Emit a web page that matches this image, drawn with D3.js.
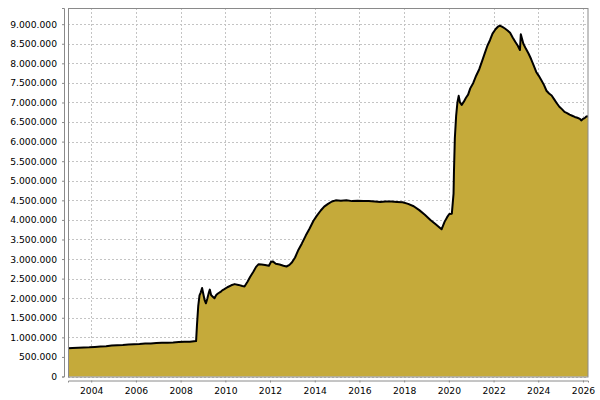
<!DOCTYPE html>
<html>
<head>
<meta charset="utf-8">
<script src="https://cdn.jsdelivr.net/npm/d3@7"></script>
<style>
  body { margin: 0; background: #fff; }
  .tick text { font-family: "DejaVu Sans", sans-serif; font-size: 9.2px; fill: #000; }
</style>
</head>
<body>
<div id="plotarea"></div>
<script>
var dates = [
  "2002-12-18","2003-03-01","2003-06-01","2003-09-01","2003-12-01",
  "2004-03-01","2004-06-01","2004-09-01","2004-12-01",
  "2005-03-01","2005-06-01","2005-09-01","2005-12-01",
  "2006-03-01","2006-06-01","2006-09-01","2006-12-01",
  "2007-03-01","2007-06-01","2007-09-01","2007-12-01",
  "2008-03-01","2008-06-01","2008-09-10","2008-09-24","2008-10-15","2008-11-05","2008-11-26","2008-12-17",
  "2009-01-07","2009-01-28","2009-02-18","2009-03-11","2009-04-08","2009-04-22","2009-05-13","2009-06-10",
  "2009-07-08","2009-08-05","2009-09-02","2009-10-14","2009-11-11","2009-12-16",
  "2010-02-03","2010-04-07","2010-06-02","2010-08-04","2010-10-06","2010-11-10","2010-12-29",
  "2011-02-09","2011-04-06","2011-05-18","2011-06-29","2011-08-17","2011-10-12","2011-12-14",
  "2012-01-18","2012-02-15","2012-04-04","2012-06-06","2012-08-08","2012-09-26","2012-11-14","2012-12-26",
  "2013-02-13","2013-04-10","2013-06-05","2013-08-07","2013-10-09","2013-12-11",
  "2014-02-05","2014-04-09","2014-06-04","2014-08-06","2014-10-08","2014-12-10",
  "2015-03-04","2015-06-03","2015-09-02","2015-12-02",
  "2016-03-02","2016-06-01","2016-09-07","2016-12-07",
  "2017-03-01","2017-06-07","2017-09-06","2017-12-06",
  "2018-03-07","2018-06-06","2018-09-05","2018-12-05",
  "2019-03-06","2019-06-05","2019-09-04","2019-10-23","2019-12-04",
  "2020-01-08","2020-02-19","2020-03-18","2020-03-25","2020-04-08","2020-04-29","2020-05-20","2020-06-10",
  "2020-07-01","2020-07-29","2020-09-02","2020-10-07","2020-11-11","2020-12-16",
  "2021-02-03","2021-03-24","2021-05-12","2021-06-30","2021-08-11","2021-09-22","2021-11-03","2021-12-15",
  "2022-02-02","2022-03-16","2022-04-13","2022-05-25","2022-07-06","2022-08-17","2022-09-28","2022-11-09","2022-12-21",
  "2023-02-01","2023-03-08","2023-03-22","2023-05-03","2023-06-14","2023-07-26","2023-09-06","2023-10-18","2023-11-29",
  "2024-01-10","2024-02-21","2024-04-03","2024-05-15","2024-06-26","2024-08-07","2024-09-18","2024-10-30","2024-12-11",
  "2025-01-22","2025-03-05","2025-04-16","2025-05-28","2025-07-09","2025-08-20","2025-10-01","2025-11-12","2025-12-03",
  "2025-12-31","2026-01-28","2026-02-25","2026-03-24"
];

var values = [
  720000,730000,735000,740000,745000,
  755000,765000,775000,790000,
  800000,805000,815000,825000,
  830000,840000,845000,855000,
  860000,865000,870000,880000,
  885000,890000,905000,1300000,1800000,2070000,2150000,2260000,
  2100000,1950000,1870000,1980000,2150000,2220000,2080000,2040000,
  2000000,2080000,2120000,2160000,2200000,2230000,
  2280000,2330000,2360000,2340000,2310000,2300000,2420000,
  2540000,2680000,2800000,2870000,2860000,2850000,2830000,
  2930000,2940000,2880000,2860000,2830000,2810000,2850000,2920000,
  3040000,3240000,3400000,3600000,3780000,3980000,
  4110000,4240000,4340000,4410000,4470000,4500000,
  4490000,4500000,4480000,4490000,
  4480000,4480000,4470000,4460000,
  4470000,4470000,4460000,4450000,
  4410000,4350000,4250000,4130000,
  4000000,3880000,3760000,3950000,4070000,
  4150000,4160000,4670000,5250000,6080000,6650000,7000000,7170000,
  7000000,6940000,7020000,7120000,7200000,7360000,
  7500000,7690000,7850000,8070000,8260000,8450000,8590000,8760000,
  8870000,8940000,8965000,8930000,8890000,8840000,8780000,8660000,8550000,
  8450000,8340000,8740000,8500000,8370000,8250000,8110000,7950000,7780000,
  7680000,7570000,7450000,7300000,7230000,7180000,7080000,6980000,6890000,
  6830000,6760000,6730000,6690000,6660000,6630000,6610000,6580000,6540000,
  6580000,6600000,6640000,6650000
];

// tick labels
var xTickYears = [2004,2006,2008,2010,2012,2014,2016,2018,2020,2022,2024,2026];
var yTickValues = [0,500000,1000000,1500000,2000000,2500000,3000000,3500000,4000000,
                   4500000,5000000,5500000,6000000,6500000,7000000,7500000,8000000,8500000,9000000];

var margin = {top: 8, right: 12, bottom: 23.5, left: 68},
    width = 600 - margin.left - margin.right,
    height = 400 - margin.top - margin.bottom;

var parseDate = d3.timeParse("%Y-%m-%d");
var data = dates.map(function(d, i) { return {date: parseDate(d), value: values[i]}; });

// dotted thousands like the original
var locale = d3.formatLocale({decimal: ",", thousands: ".", grouping: [3], currency: ["", ""]});
var fmt = locale.format(",d");

var svg = d3.select("#plotarea")
  .append("svg")
    .attr("width", 600)
    .attr("height", 400)
  .append("g")
    .attr("transform", "translate(" + margin.left + "," + margin.top + ")");

var x = d3.scaleTime()
  .domain([parseDate("2002-12-18"), parseDate("2026-03-24")])
  .range([0, width]);

// 5% headroom above the max
var y = d3.scaleLinear()
  .domain([0, d3.max(values) * 1.05])
  .range([height, 0]);

var xTicks = xTickYears.map(function(yr) { return new Date(yr, 0, 1); });

// grid lines
svg.append("g")
  .selectAll("line.hgrid")
  .data(yTickValues)
  .enter()
  .append("line")
    .attr("x1", 0).attr("x2", width)
    .attr("y1", function(d) { return Math.round(y(d)) + 0.5; })
    .attr("y2", function(d) { return Math.round(y(d)) + 0.5; })
    .style("stroke", "#c4c4c4")
    .style("stroke-dasharray", "2,2");

svg.append("g")
  .selectAll("line.vgrid")
  .data(xTicks)
  .enter()
  .append("line")
    .attr("y1", 0).attr("y2", height)
    .attr("x1", function(d) { return Math.round(x(d)) + 0.5; })
    .attr("x2", function(d) { return Math.round(x(d)) + 0.5; })
    .style("stroke", "#c4c4c4")
    .style("stroke-dasharray", "2,2");

// filled area + outline
var area = d3.area()
  .x(function(d) { return x(d.date); })
  .y0(y(0))
  .y1(function(d) { return y(d.value); });

var line = d3.line()
  .x(function(d) { return x(d.date); })
  .y(function(d) { return y(d.value); });

svg.append("path")
  .datum(data)
  .attr("d", area)
  .style("fill", "#c5aa3a");

svg.append("path")
  .datum(data)
  .attr("d", line)
  .style("fill", "none")
  .style("stroke", "#000")
  .style("stroke-width", 2)
  .style("stroke-linejoin", "round");

// plot outline
svg.append("rect")
  .attr("x", 0.5).attr("y", 0.5)
  .attr("width", width - 0.5).attr("height", height)
  .style("fill", "none")
  .style("stroke", "#8a8a8a")
  .style("stroke-width", 1);

// axes, offset 4px from the plot
var xAxis = svg.append("g")
  .attr("transform", "translate(0," + (height + 4) + ")")
  .call(d3.axisBottom(x).tickValues(xTicks).tickFormat(d3.timeFormat("%Y")).tickSizeOuter(0).tickSize(2).tickPadding(5));

var yAxis = svg.append("g")
  .attr("transform", "translate(-4,0)")
  .call(d3.axisLeft(y).tickValues(yTickValues).tickFormat(fmt).tickSizeOuter(0).tickSize(2).tickPadding(5));

svg.selectAll(".domain").style("stroke", "#8a8a8a");
svg.selectAll(".tick line").style("stroke", "#8a8a8a");
</script>
</body>
</html>
